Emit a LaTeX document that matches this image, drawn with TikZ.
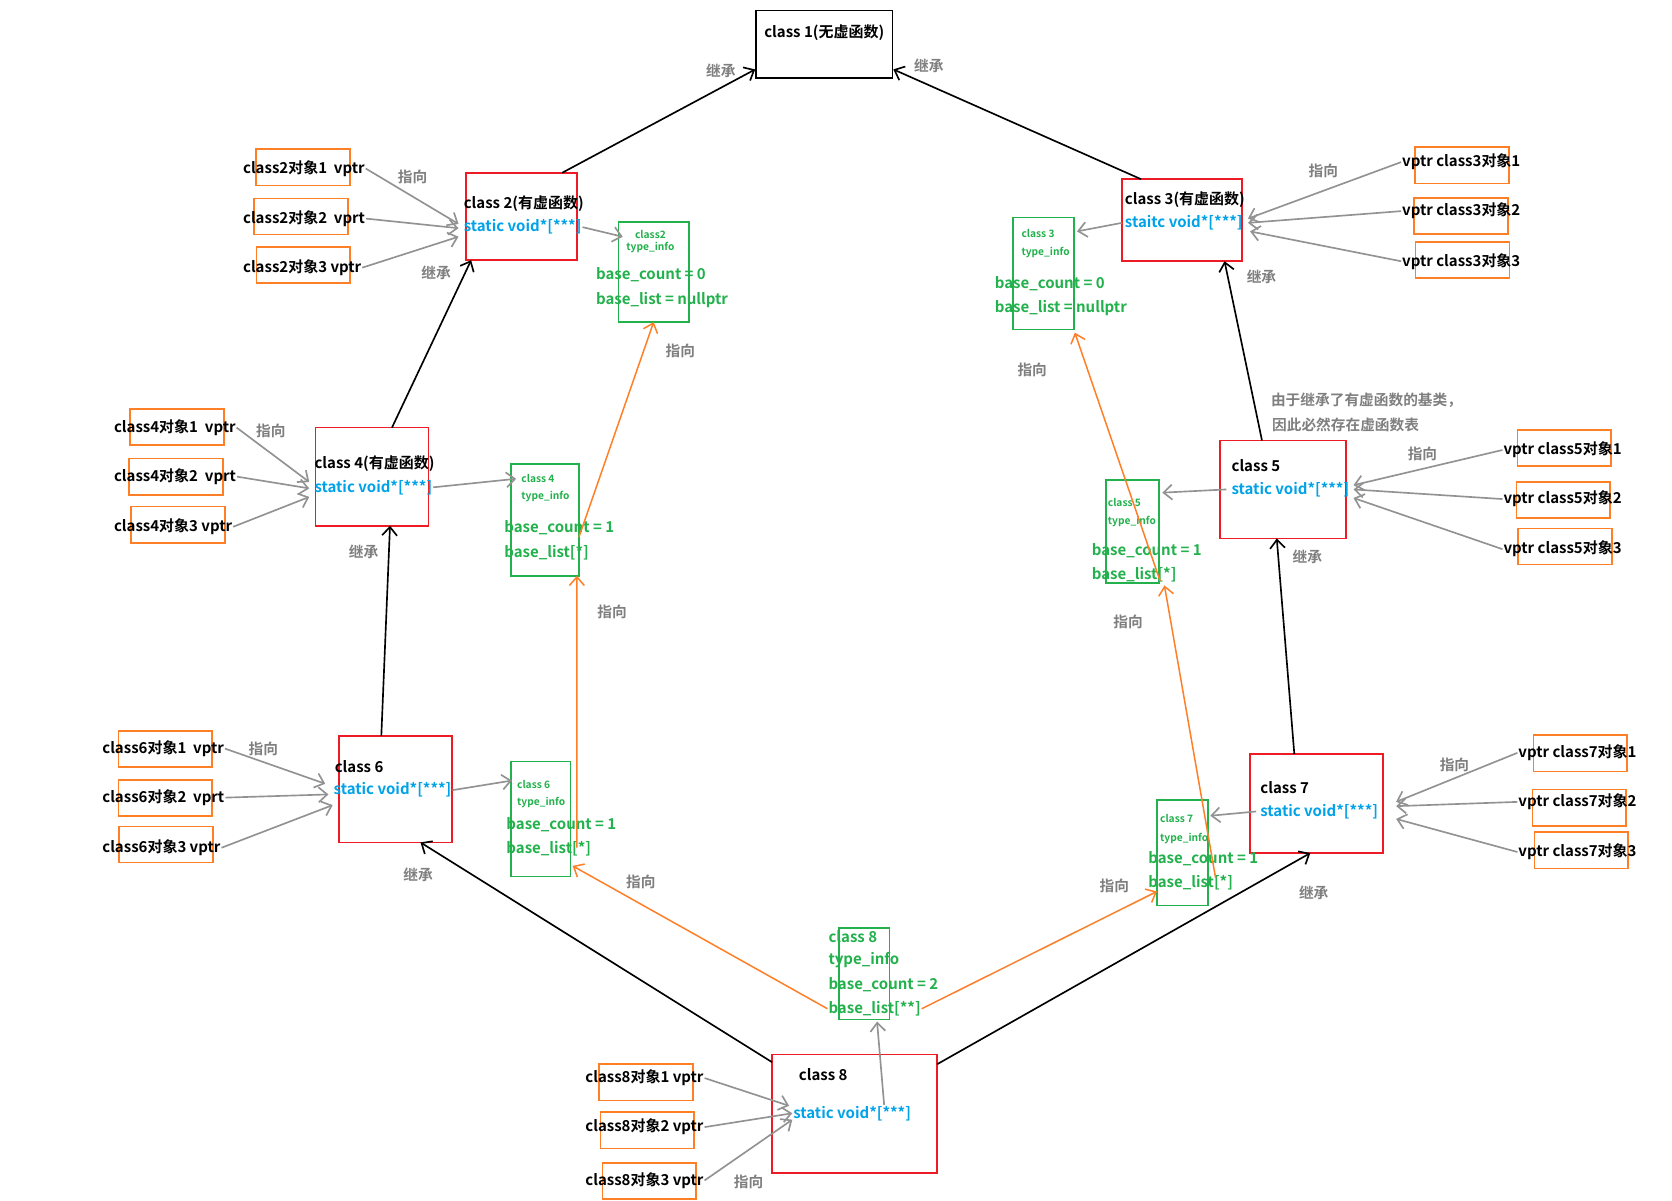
\documentclass[tikz,border=0pt]{standalone}
\usepackage{fontspec}
\setmainfont{Noto Sans CJK SC}[BoldFont={Noto Sans CJK SC Bold}]
\usetikzlibrary{arrows.meta}
\definecolor{redbox}{HTML}{ED1C24}
\definecolor{orangebox}{HTML}{FF7F27}
\definecolor{greenbox}{HTML}{22B14C}
\definecolor{bluetext}{HTML}{00A2E8}
\definecolor{graytext}{HTML}{7F7F7F}
\tikzset{
  clsbox/.style={draw=redbox, line width=1.1pt, inner sep=0pt, outer sep=0pt},
  infobox/.style={draw=greenbox, line width=1.1pt, inner sep=0pt, outer sep=0pt},
  objbox/.style={draw=orangebox, line width=1.1pt, minimum width=22mm, minimum height=8.5mm, inner sep=0pt},
  txt/.style={inner sep=0.5pt, anchor=west, font=\fontsize{10}{12}\selectfont\bfseries},
  vtxt/.style={txt, text=bluetext},
  gtxt/.style={txt, text=greenbox},
  gsmall/.style={txt, text=greenbox, font=\fontsize{6.8}{8}\selectfont\bfseries},
  note/.style={inner sep=0.5pt, text=graytext, font=\fontsize{9.8}{11}\selectfont\bfseries},
  inh/.style={-{Straight Barb[length=2mm,width=3.5mm]}, line width=1.1pt, draw=black},
  ptr/.style={-{Straight Barb[length=2mm,width=3.5mm]}, line width=1.1pt, draw=graytext!85},
  blist/.style={-{Straight Barb[length=2mm,width=3.5mm]}, line width=1pt, draw=orangebox}
}
\begin{document}
\begin{tikzpicture}[x=0.25mm, y=-0.25mm]
  \useasboundingbox[fill=white] (0,0) rectangle (1568,1126);

  % class boxes
  \node[draw=black, line width=1.1pt, inner sep=0pt, minimum width=32mm, minimum height=15.75mm] (c1) at (773,41.5) {};
  \node[clsbox, minimum width=26mm, minimum height=20.5mm] (c2) at (489,203) {};
  \node[clsbox, minimum width=28.25mm, minimum height=19.25mm] (c3) at (1108.5,206.5) {};
  \node[clsbox, minimum width=26.5mm, minimum height=23mm] (c4) at (349,447) {};
  \node[clsbox, minimum width=29.5mm, minimum height=23mm] (c5) at (1203,459) {};
  \node[clsbox, minimum width=26.5mm, minimum height=25mm] (c6) at (371,740) {};
  \node[clsbox, minimum width=31.25mm, minimum height=23.25mm] (c7) at (1234.5,753.5) {};
  \node[clsbox, minimum width=38.75mm, minimum height=27.75mm] (c8) at (801.5,1044.5) {};

  \node[txt, anchor=center] (c1t) at (773,31) {class 1(无虚函数)};
  \node[txt] (c2t) at (434,191) {class 2(有虚函数)};
  \node[vtxt] (c2s) at (434,213) {static void*[***]};
  \node[txt] (c3t) at (1054,187) {class 3(有虚函数)};
  \node[vtxt] (c3s) at (1054,209) {staitc void*[***]};
  \node[txt] (c4t) at (294,435) {class 4(有虚函数)};
  \node[vtxt] (c4s) at (294,457) {static void*[***]};
  \node[txt] (c5t) at (1154,437) {class 5};
  \node[vtxt] (c5s) at (1154,459) {static void*[***]};
  \node[txt] (c6t) at (313,719) {class 6};
  \node[vtxt] (c6s) at (312,741) {static void*[***]};
  \node[txt] (c7t) at (1181,739) {class 7};
  \node[vtxt] (c7s) at (1181,761) {static void*[***]};
  \node[txt, anchor=center] (c8t) at (772,1008) {class 8};
  \node[vtxt] (c8s) at (743,1044) {static void*[***]};

  % type_info boxes
  \node[infobox, minimum width=16.5mm, minimum height=23.5mm] (t2) at (613,255) {};
  \node[infobox, minimum width=14.25mm, minimum height=26.25mm] (t3) at (978.5,256.5) {};
  \node[infobox, minimum width=16mm, minimum height=26.25mm] (t4) at (511,487.5) {};
  \node[infobox, minimum width=12.5mm, minimum height=24.25mm] (t5) at (1062,498.5) {};
  \node[infobox, minimum width=14mm, minimum height=27mm] (t6) at (507,768) {};
  \node[infobox, minimum width=12mm, minimum height=24.75mm] (t7) at (1109,799.5) {};
  \node[infobox, minimum width=11.75mm, minimum height=21.5mm] (t8) at (810.5,913) {};

  \node[gsmall, anchor=center] (t2a) at (610,220) {class2};
  \node[gsmall, anchor=center] (t2b) at (610,232) {type\_info};
  \node[gtxt] (t2c) at (558,258) {base\_count = 0};
  \node[gtxt] (t2d) at (558,281) {base\_list = nullptr};
  \node[gsmall] (t3a) at (957,219) {class 3};
  \node[gsmall] (t3b) at (957,237) {type\_info};
  \node[gtxt] (t3c) at (932,266) {base\_count = 0};
  \node[gtxt] (t3d) at (932,289) {base\_list = nullptr};
  \node[gsmall] (t4a) at (488,449) {class 4};
  \node[gsmall] (t4b) at (488,466) {type\_info};
  \node[gtxt] (t4c) at (472,495) {base\_count = 1};
  \node[gtxt] (t4d) at (472,518) {base\_list[*]};
  \node[gsmall] (t5a) at (1038,471) {class 5};
  \node[gsmall] (t5b) at (1038,489) {type\_info};
  \node[gtxt] (t5c) at (1023,516) {base\_count = 1};
  \node[gtxt] (t5d) at (1023,539) {base\_list[*]};
  \node[gsmall] (t6a) at (484,736) {class 6};
  \node[gsmall] (t6b) at (484,753) {type\_info};
  \node[gtxt] (t6c) at (474,773) {base\_count = 1};
  \node[gtxt] (t6d) at (474,796) {base\_list[*]};
  \node[gsmall] (t7a) at (1087,768) {class 7};
  \node[gsmall] (t7b) at (1087,786) {type\_info};
  \node[gtxt] (t7c) at (1076,805) {base\_count = 1};
  \node[gtxt] (t7d) at (1076,828) {base\_list[*]};
  \node[gtxt] (t8a) at (776,878) {class 8};
  \node[gtxt] (t8b) at (776,900) {type\_info};
  \node[gtxt] (t8c) at (776,923) {base\_count = 2};
  \node[gtxt] (t8d) at (776,946) {base\_list[**]};

  % objects
  \node[objbox] (o21) at (284,157) {};
  \node[objbox] (o22) at (282.5,203) {};
  \node[objbox] (o23) at (284.5,248.5) {};
  \node[objbox] (o31) at (1371,155) {};
  \node[objbox] (o32) at (1370,202.5) {};
  \node[objbox] (o33) at (1371.5,244) {};
  \node[objbox] (o41) at (166,400.5) {};
  \node[objbox] (o42) at (165,447) {};
  \node[objbox] (o43) at (167,492) {};
  \node[objbox] (o51) at (1467,420) {};
  \node[objbox] (o52) at (1466,469) {};
  \node[objbox] (o53) at (1467.5,512.5) {};
  \node[objbox] (o61) at (155,702.5) {};
  \node[objbox] (o62) at (155,748.5) {};
  \node[objbox] (o63) at (155.5,792) {};
  \node[objbox] (o71) at (1482,706.5) {};
  \node[objbox] (o72) at (1481,757.5) {};
  \node[objbox] (o73) at (1483,797.5) {};
  \node[objbox] (o81) at (606,1015) {};
  \node[objbox] (o82) at (607,1060) {};
  \node[objbox] (o83) at (609,1107.5) {};

  \node[txt] (o21t) at (227,158) {class2对象1\ \ vptr};
  \node[txt] (o22t) at (227,205) {class2对象2\ \ vprt};
  \node[txt] (o23t) at (227,251) {class2对象3 vptr};
  \node[txt] (o31t) at (1314,152) {vptr class3对象1};
  \node[txt] (o32t) at (1314,198) {vptr class3对象2};
  \node[txt] (o33t) at (1314,245) {vptr class3对象3};
  \node[txt] (o41t) at (106,401) {class4对象1\ \ vptr};
  \node[txt] (o42t) at (106,447) {class4对象2\ \ vprt};
  \node[txt] (o43t) at (106,494) {class4对象3 vptr};
  \node[txt] (o51t) at (1409,422) {vptr class5对象1};
  \node[txt] (o52t) at (1409,468) {vptr class5对象2};
  \node[txt] (o53t) at (1409,515) {vptr class5对象3};
  \node[txt] (o61t) at (95,702) {class6对象1\ \ vptr};
  \node[txt] (o62t) at (95,748) {class6对象2\ \ vprt};
  \node[txt] (o63t) at (95,795) {class6对象3 vptr};
  \node[txt] (o71t) at (1423,706) {vptr class7对象1};
  \node[txt] (o72t) at (1423,752) {vptr class7对象2};
  \node[txt] (o73t) at (1423,799) {vptr class7对象3};
  \node[txt] (o81t) at (548,1011) {class8对象1 vptr};
  \node[txt] (o82t) at (548,1057) {class8对象2 vptr};
  \node[txt] (o83t) at (548,1107) {class8对象3 vptr};

  % gray labels
  \node[note] (j1) at (676,66) {继承};
  \node[note] (j2) at (871,62) {继承};
  \node[note] (j3) at (409,256) {继承};
  \node[note] (j4) at (1183,260) {继承};
  \node[note] (j5) at (341,517) {继承};
  \node[note] (j6) at (1226,522) {继承};
  \node[note] (j7) at (392,820) {继承};
  \node[note] (j8) at (1232,837) {继承};
  \node[note] (z1) at (387,166) {指向};
  \node[note] (z2) at (638,329) {指向};
  \node[note] (z3) at (1241,160) {指向};
  \node[note] (z4) at (968,347) {指向};
  \node[note] (z5) at (254,404) {指向};
  \node[note] (z6) at (574,574) {指向};
  \node[note] (z7) at (1334,426) {指向};
  \node[note] (z8) at (1058,583) {指向};
  \node[note] (z9) at (247,702) {指向};
  \node[note] (z10) at (601,827) {指向};
  \node[note] (z11) at (1364,717) {指向};
  \node[note] (z12) at (1045,831) {指向};
  \node[note] (z13) at (702,1108) {指向};
  \node[note, anchor=west] (rem1) at (1191,375) {由于继承了有虚函数的基类，};
  \node[note, anchor=west] (rem2) at (1192,398) {因此必然存在虚函数表};

  % inheritance
  \draw[inh] (c2.47) -- (c1.200);
  \draw[inh] (c3.135) -- (c1.-20);
  \draw[inh] (c4.68) -- (c2.221);
  \draw[inh] (c5.113) -- (c3.-44);
  \draw[inh] (c6.105) -- (c4.-70);
  \draw[inh] (c7.114) -- (c5.-97);
  \draw[inh] (c8.148) -- (c6.-65);
  \draw[inh] (c8.31) -- (c7.-97);

  % vptr -> vtable
  \draw[ptr] (o21t.east) -- ([xshift=-1mm,yshift=.75mm]c2s.west);
  \draw[ptr] (o22t.east) -- ([xshift=-1mm,yshift=-.25mm]c2s.west);
  \draw[ptr] (o23t.east) -- ([xshift=-1mm,yshift=-2.25mm]c2s.west);
  \draw[ptr] (o31t.west) -- ([xshift=1mm,yshift=1mm]c3s.east);
  \draw[ptr] (o32t.west) -- ([xshift=1mm]c3s.east);
  \draw[ptr] (o33t.west) -- ([xshift=1.5mm,yshift=-2mm]c3s.east);
  \draw[ptr] (o41t.east) -- ([xshift=-1mm,yshift=1.25mm]c4s.west);
  \draw[ptr] (o42t.east) -- ([xshift=-1mm,yshift=-.25mm]c4s.west);
  \draw[ptr] (o43t.east) -- ([xshift=-1mm,yshift=-2.25mm]c4s.west);
  \draw[ptr] (o51t.west) -- ([xshift=.75mm,yshift=1mm]c5s.east);
  \draw[ptr] (o52t.west) -- ([xshift=.75mm]c5s.east);
  \draw[ptr] (o53t.west) -- ([xshift=.75mm,yshift=-2mm]c5s.east);
  \draw[ptr] (o61t.east) -- ([xshift=-1.75mm,yshift=1.5mm]c6s.west);
  \draw[ptr] (o62t.east) -- ([xshift=-1mm,yshift=-1mm]c6s.west);
  \draw[ptr] (o63t.east) -- ([yshift=-3.5mm]c6s.west);
  \draw[ptr] (o71t.west) -- ([xshift=4mm,yshift=2.25mm]c7s.east);
  \draw[ptr] (o72t.west) -- ([xshift=4mm,yshift=1.25mm]c7s.east);
  \draw[ptr] (o73t.west) -- ([xshift=4mm,yshift=-1.75mm]c7s.east);
  \draw[ptr] (o81t.east) -- ([xshift=-.75mm,yshift=1.75mm]c8s.west);
  \draw[ptr] (o82t.east) -- (c8s.west);
  \draw[ptr] (o83t.east) -- ([yshift=-1.5mm]c8s.west);

  % vtable -> type_info
  \draw[ptr] (c2s.east) -- ([xshift=1mm,yshift=-3.5mm]t2.north west);
  \draw[ptr] ([xshift=-.5mm]c3s.west) -- ([xshift=.75mm,yshift=-3.25mm]t3.north east);
  \draw[ptr] (c4s.east) -- ([xshift=-1mm]t4a.west);
  \draw[ptr] ([xshift=-1mm]c5s.west) -- ([xshift=.75mm,yshift=-3mm]t5.north east);
  \draw[ptr] (c6s.east) -- ([xshift=-1mm,yshift=1mm]t6a.west);
  \draw[ptr] ([xshift=-.75mm]c7s.west) -- ([xshift=.5mm,yshift=-3.75mm]t7.north east);
  \draw[ptr] ([xshift=7.5mm]c8s.north) -- ([xshift=3mm,yshift=-.5mm]t8.south);

  % base_list
  \draw[blist] ([yshift=-4mm]t4.east) -- (t2.south);
  \draw[blist] ([xshift=1.5mm,yshift=-6.75mm]t6.east) -- ([xshift=-.5mm]t4.south east);
  \draw[blist] ([xshift=.25mm,yshift=.5mm]t5.south east) -- ([xshift=.25mm,yshift=-.75mm]t3.south east);
  \draw[blist] ([xshift=1.75mm,yshift=-6mm]t7.east) -- ([xshift=1.25mm,yshift=-.5mm]t5.south east);
  \draw[blist] (t8d.west) -- ([xshift=.5mm,yshift=2.5mm]t6.south east);
  \draw[blist] (t8d.east) -- ([yshift=3.25mm]t7.south west);
\end{tikzpicture}
\end{document}
